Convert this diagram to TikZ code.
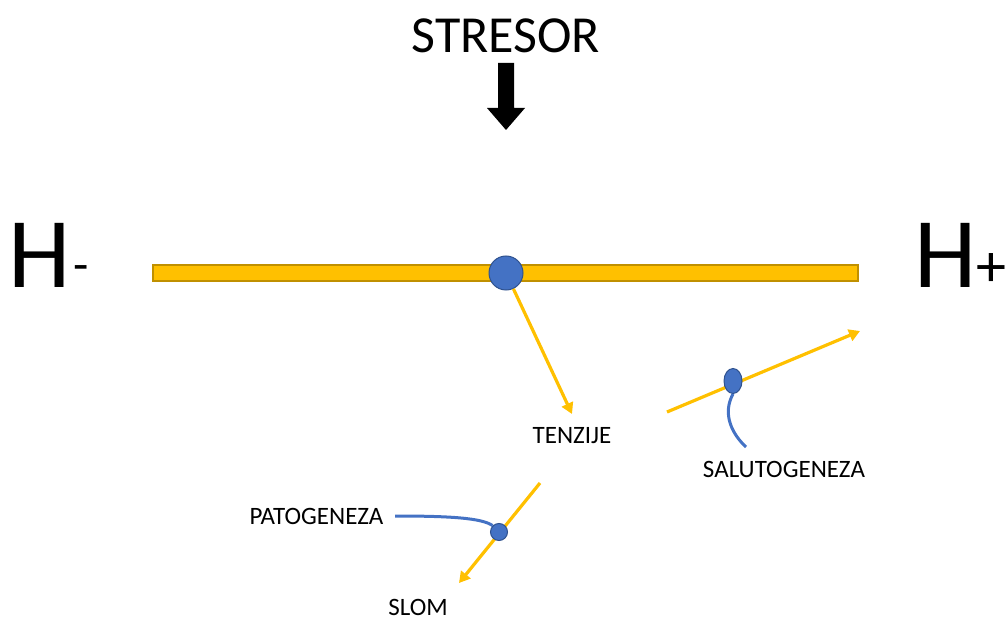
\documentclass[tikz,border=0pt]{standalone}
\usepackage{fontspec}
\setmainfont{Carlito}
\usetikzlibrary{arrows.meta,shapes.geometric}
\definecolor{gold}{HTML}{FFC000}
\definecolor{golddark}{HTML}{C09000}
\definecolor{blu}{HTML}{4472C4}
\definecolor{bludark}{HTML}{2F528F}
\begin{document}
\begin{tikzpicture}[x=1pt,y=-1pt,
  yarrow/.style={draw=gold,line width=3.2pt,-{Triangle[length=11pt,width=12pt]}},
  bcurve/.style={draw=blu,line width=3pt},
  dot/.style={circle,fill=blu,draw=bludark,line width=1pt,inner sep=0pt},
  lbl/.style={font=\fontsize{25}{30}\selectfont,inner sep=0pt,anchor=base}]
\useasboundingbox (0,0) rectangle (1007,620);
% title and stressor arrow
\node[font=\fontsize{52}{60}\selectfont,inner sep=0pt] (stresor) at (506,36) {STRESOR};
\fill[black] (498,63) -- (514,63) -- (514,108) -- (525,108) -- (506,130) -- (487,108) -- (498,108) -- cycle;
% bar
\node[draw=golddark,fill=gold,line width=1.2pt,minimum width=705pt,minimum height=16pt,inner sep=0pt] (bar) at (505.5,273) {};
\node[dot,minimum size=34pt] (c1) at (506,273) {};
% H labels
\node[anchor=base west,inner sep=0pt,font=\fontsize{100}{100}\selectfont] (hm) at (8,288) {H\hspace{3pt}\raisebox{6pt}{\fontsize{50}{50}\selectfont -}};
\node[anchor=base west,inner sep=0pt,font=\fontsize{100}{100}\selectfont] (hp) at (914,288) {H\raisebox{1pt}{\fontsize{60}{60}\selectfont +}};
% tension arrow
\coordinate (tenzTip) at (572,414);
\draw[yarrow] (c1) -- (tenzTip);
\node[lbl] (tenz) at (572,443) {TENZIJE};
% salutogenesis
\coordinate (sA) at (667,412);
\coordinate (sB) at (860,331);
\draw[yarrow] (sA) -- (sB);
\node[dot,ellipse,minimum width=18pt,minimum height=25pt] (s1) at (733,381) {};
\coordinate (sEnd) at (746,447);
\draw[bcurve] (s1.south) .. controls (722,414) and (732,434) .. (sEnd);
\node[lbl] (salu) at (784,477) {SALUTOGENEZA};
% pathogenesis
\coordinate (pA) at (540,483);
\coordinate (pB) at (459,583);
\draw[yarrow] (pA) -- (pB);
\node[dot,minimum size=17pt] (p1) at (499,532) {};
\coordinate (pStart) at (395,516);
\draw[bcurve] (pStart) .. controls (450,516) and (482,518) .. (p1.north west);
\node[lbl] (pato) at (316.5,524) {PATOGENEZA};
\node[lbl] (slom) at (418,615) {SLOM};
\end{tikzpicture}
\end{document}
